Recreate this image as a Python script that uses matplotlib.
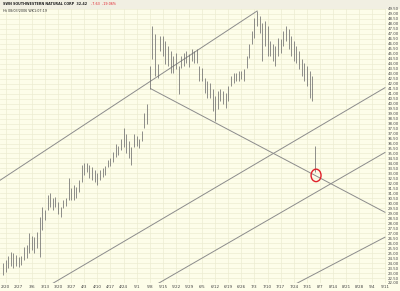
import matplotlib
matplotlib.use('Agg')
import matplotlib.pyplot as plt
from matplotlib.patches import Ellipse, Rectangle
import numpy as np

# daily bars, index 0 = 2/20/2006
highs = [24.0, 24.3, 24.7, 25.1, 25.0, 24.8, 24.6, 24.7, 25.6, 25.8,
         27.0, 26.7, 26.6, 27.1, 28.6, 29.6, 29.3, 30.8, 31.0, 30.5,
         30.6, 30.1, 29.6, 30.3, 30.5, 32.5, 31.5, 31.8, 31.6, 32.3,
         33.8, 34.0, 34.0, 33.8, 33.6, 33.3, 33.0, 33.3, 33.5, 33.7,
         34.3, 34.5, 35.1, 36.0, 35.8, 36.5, 37.6, 37.0, 36.3, 35.6,
         37.0, 36.8, 36.5, 37.3, 39.1, 40.0,
         43.8, 47.8, 47.0, 44.0, 46.8, 46.8, 46.3, 45.8, 45.3, 44.8,
         45.1, 43.8, 44.8, 45.1, 45.3, 45.0, 45.5, 45.3, 45.5, 43.8,
         43.6, 42.6, 42.3, 42.1, 41.5, 40.8, 41.3, 41.5, 41.3, 41.1,
         41.8, 42.8, 43.1, 43.1, 43.3, 43.3, 43.5, 44.8, 46.0, 47.3,
         48.6, 49.3, 48.8, 48.1, 48.3, 47.8, 46.3, 46.0, 45.8, 46.6,
         46.5, 47.3, 47.8, 47.5, 46.8, 46.3, 45.8, 45.3, 44.5, 44.1,
         43.8, 43.3, 42.8, 35.8]
lows = [22.8, 23.1, 23.5, 23.7, 23.5, 23.7, 23.6, 23.8, 24.3, 24.5,
        25.0, 25.3, 25.0, 25.5, 24.6, 27.3, 28.3, 29.3, 29.6, 29.3,
        29.6, 28.9, 28.6, 29.5, 29.7, 30.3, 30.3, 30.3, 30.5, 31.1,
        32.1, 32.8, 33.1, 32.5, 32.3, 32.1, 31.8, 32.3, 32.6, 32.8,
        33.6, 33.7, 34.1, 34.6, 34.8, 35.3, 35.6, 35.0, 34.5, 33.8,
        35.6, 35.8, 35.5, 36.3, 37.6, 38.0,
        41.5, 44.5, 42.8, 42.6, 45.3, 44.8, 44.0, 43.8, 43.1, 43.1,
        43.5, 41.0, 43.6, 43.8, 44.1, 43.7, 44.3, 44.1, 44.1, 42.3,
        42.3, 41.1, 40.6, 40.6, 39.3, 38.3, 39.5, 40.3, 40.0, 39.6,
        40.3, 41.8, 42.1, 42.3, 42.3, 42.5, 42.3, 43.6, 44.6, 46.0,
        46.6, 47.8, 47.1, 44.3, 45.8, 44.8, 44.8, 44.3, 43.8, 44.8,
        45.1, 45.8, 46.3, 45.5, 44.8, 44.3, 44.1, 43.5, 42.8, 42.3,
        41.8, 40.6, 40.3, 33.1]

week_labels = ['2/20', '2/27', '3/6', '3/13', '3/20', '3/27', '4/3', '4/10',
               '4/17', '4/24', '5/1', '5/8', '5/15', '5/22', '5/29', '6/5',
               '6/12', '6/19', '6/26', '7/3', '7/10', '7/17', '7/24', '7/31',
               '8/7', '8/14', '8/21', '8/28', '9/4', '9/11']

# drawn lines as (bar index, price) end points
trend_lines = [
    ((-1.2, 32.3), (97.0, 49.3)),
    ((56.4, 41.5), (145.8, 29.1)),
    ((16.0, 21.5), (145.8, 41.6)),
    ((56.9, 21.6), (145.8, 35.1)),
    ((109.5, 21.6), (145.8, 26.6)),
]
circle_center = (119.5, 32.8)

title = 'SWN SOUTHWESTERN NATURAL CORP  32.42'
change = '-7.63  -19.06%'
subtitle = 'Ht 08/03/2006 WK1:07:19'

bg = '#fdfde9'
grid_col = '#ececd2'
bar_col = '#707070'
line_col = '#8c8c8c'

fig = plt.figure(figsize=(4.0, 2.91), dpi=100, facecolor=bg)
ax = fig.add_axes([0.0, 1 - 283 / 291, 386 / 400, 274 / 291])
ax.set_facecolor(bg)
fig.patches.append(Rectangle((0, 1 - 9 / 291), 1, 9 / 291, transform=fig.transFigure,
                             facecolor='#f1efe2', edgecolor='none', zorder=-1))

x = np.arange(len(highs))
ax.vlines(x, lows, highs, color=bar_col, lw=0.55, zorder=3)

for (x0, y0), (x1, y1) in trend_lines:
    ax.plot([x0, x1], [y0, y1], color=line_col, lw=0.7, zorder=2)

ax.add_patch(Ellipse(circle_center, 3.8, 1.25, fill=False, edgecolor='#e0202a', lw=1.0, zorder=4))

ax.set_xlim(-1.15, 146.2)
ax.set_ylim(22.0, 49.5)

ax.set_xticks(np.arange(len(week_labels)) * 5 + 1)
ax.set_xticklabels(week_labels, fontsize=3.0, color='#444444')
yt = np.arange(22.0, 49.51, 0.5)
ax.set_yticks(yt)
ax.set_yticklabels(['%.2f' % v for v in yt], fontsize=2.8, color='#444444')
ax.yaxis.tick_right()
ax.tick_params(length=0, pad=1.5)
ax.grid(True, color=grid_col, lw=0.5, zorder=0)
for s in ax.spines.values():
    s.set_visible(False)

t = fig.text(0.008, 1 - 4 / 291, title, fontsize=2.4, color='#222222', va='center', weight='bold')
fig.text(0.008, 1 - 11 / 291, subtitle, fontsize=2.4, color='#333333', va='center')
fig.text(0.0, 0.0, change, fontsize=2.4, color='#e0202a', va='center', ha='left',
         transform=matplotlib.transforms.offset_copy(fig.transFigure, fig=fig, x=0, y=0))
# place the change text just right of the title
fig.canvas.draw()
bb = t.get_window_extent()
fig.texts[-1].set_position(((bb.x1 + 4) / fig.bbox.width, 1 - 4 / 291))

fig.savefig('out.png', dpi=100, facecolor=bg)
